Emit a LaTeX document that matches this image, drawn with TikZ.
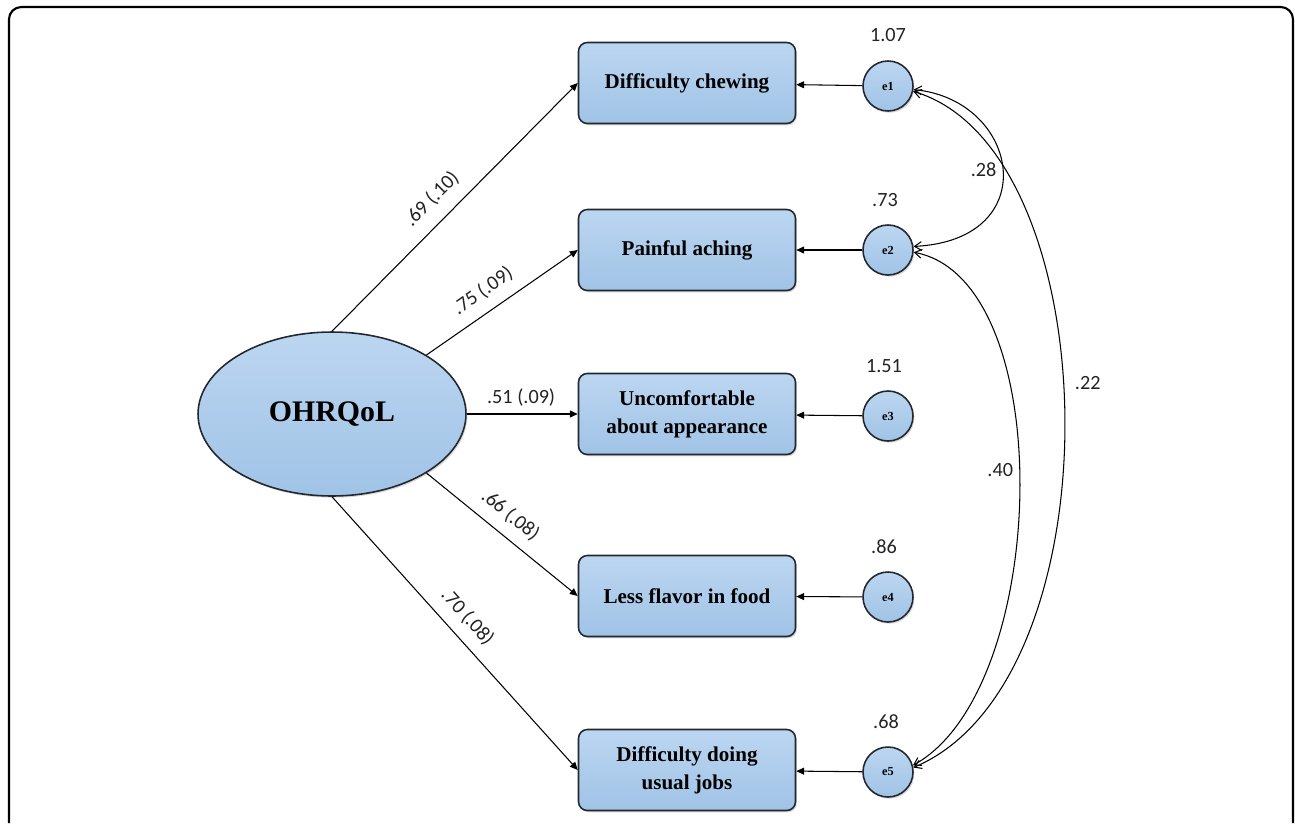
\documentclass[tikz,border=0pt]{standalone}
\usepackage{fontspec}
\setmainfont{Liberation Serif}
\newfontfamily\numfont{Carlito}
\usetikzlibrary{arrows.meta,shapes.geometric,shadows}
\definecolor{boxblue}{RGB}{160,195,230}
\definecolor{boxtop}{RGB}{188,214,241}
\definecolor{edgegray}{RGB}{35,40,48}
\definecolor{numgray}{RGB}{35,35,35}
\begin{document}
\begin{tikzpicture}[x=0.02cm,y=-0.02cm,
  shad/.style={drop shadow={shadow xshift=0.8pt,shadow yshift=-1pt,opacity=0.3}},
  obs/.style={draw=edgegray,line width=0.9pt,top color=boxtop,bottom color=boxblue,
    rounded corners=5pt,minimum width=4.34cm,minimum height=1.62cm,align=center,
    font=\fontsize{12}{16}\selectfont\bfseries,shad},
  err/.style={circle,draw=edgegray,line width=0.9pt,top color=boxtop,bottom color=boxblue,
    minimum size=1cm,inner sep=0pt,font=\fontsize{7}{8}\selectfont\bfseries,shad},
  lat/.style={ellipse,draw=edgegray,line width=0.9pt,top color=boxtop,bottom color=boxblue,
    minimum width=5.36cm,minimum height=3.28cm,inner sep=0pt,
    font=\fontsize{17}{20}\selectfont\bfseries,shad},
  num/.style={font=\numfont\fontsize{11.5}{13}\selectfont,text=numgray},
  ldarrow/.style={-{Triangle[length=4.5pt,width=4pt]},line width=0.6pt},
  cov/.style={{Straight Barb[length=4pt,width=5pt]}-{Straight Barb[length=4pt,width=5pt]},line width=0.6pt}]
\useasboundingbox (0,0) rectangle (1295,823);
\draw[line width=1.2pt,rounded corners=7pt] (9,823) -- (9,7) -- (1293,7) -- (1293,823);

\node[lat] (L) at (332,414) {OHRQoL};
\node[obs] (b1) at (687,83) {Difficulty chewing};
\node[obs] (b2) at (687,250) {Painful aching};
\node[obs] (b3) at (687,414) {Uncomfortable\\about appearance};
\node[obs] (b4) at (687,596) {Less flavor in food};
\node[obs] (b5) at (687,770) {Difficulty doing\\usual jobs};

\node[err] (e1) at (888,86) {e1};
\node[err] (e2) at (888,250) {e2};
\node[err] (e3) at (888,416) {e3};
\node[err] (e4) at (888,597) {e4};
\node[err] (e5) at (888,772) {e5};

\node[num] (v1) at (888,35) {1.07};
\node[num] (v2) at (885,200) {.73};
\node[num] (v3) at (884,366) {1.51};
\node[num] (v4) at (884,547) {.86};
\node[num] (v5) at (886,722) {.68};

\draw[ldarrow] (e1) -- (b1);
\draw[ldarrow] (e2) -- (b2);
\draw[ldarrow] (e3) -- (b3);
\draw[ldarrow] (e4) -- (b4);
\draw[ldarrow] (e5) -- (b5);

\draw[ldarrow] (L.north) -- node[num,sloped,above=4pt,pos=0.47] {.69 (.10)} (b1.west);
\draw[ldarrow] (L.32) -- node[num,sloped,above=3pt,pos=0.45] {.75 (.09)} (b2.west);
\draw[ldarrow] (L.east) -- node[num,above=1pt,pos=0.49] {.51 (.09)} (b3.west);
\draw[ldarrow] (L.-32) -- node[num,sloped,above=3pt,pos=0.47] {.66 (.08)} (b4.west);
\draw[ldarrow] (L.south) -- node[num,sloped,above=3pt,pos=0.49] {.70 (.08)} (b5.west);

\draw[cov] (e1.-8) .. controls (1020,100) and (1045,240) .. node[num,pos=0.5,left=0pt] {.28} (e2.8);
\draw[cov] (e2.-5) .. controls (1060,280) and (1050,690) .. node[num,pos=0.47,left=0pt] {.40} (e5.15);
\draw[cov] (e1.-12) .. controls (1110,150) and (1120,680) .. node[num,pos=0.46,right=3pt] {.22} (e5.10);
\end{tikzpicture}
\end{document}
